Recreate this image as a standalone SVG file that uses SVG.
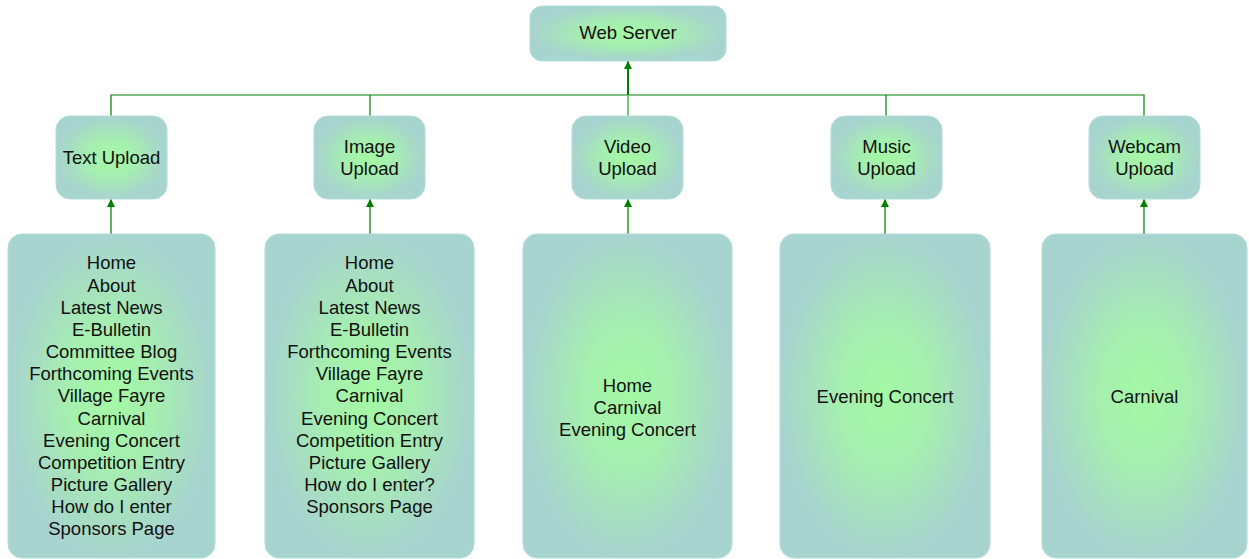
<svg xmlns="http://www.w3.org/2000/svg" width="1249" height="559" viewBox="0 0 1249 559">
<style>
.box{fill:url(#g);stroke:#b4dcd6;stroke-width:1}
text{font-family:"Liberation Sans",Arial,sans-serif;font-size:18.5px;fill:#111;text-anchor:middle}
.c{fill:none;stroke:#008000;stroke-width:1.2}
.up{fill:none;stroke:#1f8f1f;stroke-width:1.4}
</style>
<defs>
<radialGradient id="g" cx="50%" cy="50%" r="50%">
<stop offset="0" stop-color="#a4f9a4"/>
<stop offset="0.45" stop-color="#a5eeb0"/>
<stop offset="0.8" stop-color="#a7dcc4"/>
<stop offset="1" stop-color="#a8d4cf"/>
</radialGradient>
<marker id="a" viewBox="0 0 10 10" refX="10" refY="5" markerWidth="8" markerHeight="8" markerUnits="userSpaceOnUse" orient="auto">
<path d="M0,0 L10,5 L0,10 z" fill="#008000"/>
</marker>
</defs>
<g id="connectors">
<path class="c" d="M111,116 V95 H1144 V116"/>
<path class="c" d="M370,116 V95"/>
<path class="c" d="M886,116 V95"/>
<path d="M628,116 V95" stroke="#7dc07d" stroke-width="2" fill="none"/>
<path d="M628,95 V61" stroke="#008000" stroke-width="2" fill="none" marker-end="url(#a)"/>
<path class="up" d="M111,234 V199" marker-end="url(#a)"/>
<path class="up" d="M370,234 V199" marker-end="url(#a)"/>
<path class="up" d="M628,234 V199" marker-end="url(#a)"/>
<path class="up" d="M885,234 V199" marker-end="url(#a)"/>
<path class="up" d="M1144,234 V199" marker-end="url(#a)"/>
</g>
<g id="web-server">
<rect class="box" x="530" y="6" width="196" height="55" rx="12"/>
<text x="628" y="39">Web Server</text>
</g>
<g id="text-upload">
<rect class="box" x="56" y="116" width="111" height="83" rx="14"/>
<text x="111.5" y="164">Text Upload</text>
</g>
<g id="image-upload">
<rect class="box" x="314" y="116" width="111" height="83" rx="14"/>
<text x="369.5" y="152.5">Image</text>
<text x="369.5" y="174.5">Upload</text>
</g>
<g id="video-upload">
<rect class="box" x="572" y="116" width="111" height="83" rx="14"/>
<text x="627.5" y="152.5">Video</text>
<text x="627.5" y="174.5">Upload</text>
</g>
<g id="music-upload">
<rect class="box" x="831" y="116" width="111" height="83" rx="14"/>
<text x="886.5" y="152.5">Music</text>
<text x="886.5" y="174.5">Upload</text>
</g>
<g id="webcam-upload">
<rect class="box" x="1089" y="116" width="111" height="83" rx="14"/>
<text x="1144.5" y="152.5">Webcam</text>
<text x="1144.5" y="174.5">Upload</text>
</g>
<g id="text-pages">
<rect class="box" x="8" y="234" width="207" height="324" rx="14"/>
<text x="111.5" y="269.3">Home</text>
<text x="111.5" y="291.5">About</text>
<text x="111.5" y="313.6">Latest News</text>
<text x="111.5" y="335.8">E-Bulletin</text>
<text x="111.5" y="358">Committee Blog</text>
<text x="111.5" y="380.2">Forthcoming Events</text>
<text x="111.5" y="402.3">Village Fayre</text>
<text x="111.5" y="424.5">Carnival</text>
<text x="111.5" y="446.7">Evening Concert</text>
<text x="111.5" y="468.8">Competition Entry</text>
<text x="111.5" y="491">Picture Gallery</text>
<text x="111.5" y="513.2">How do I enter</text>
<text x="111.5" y="535.3">Sponsors Page</text>
</g>
<g id="image-pages">
<rect class="box" x="265" y="234" width="209" height="324" rx="14"/>
<text x="369.5" y="269.3">Home</text>
<text x="369.5" y="291.5">About</text>
<text x="369.5" y="313.6">Latest News</text>
<text x="369.5" y="335.8">E-Bulletin</text>
<text x="369.5" y="358">Forthcoming Events</text>
<text x="369.5" y="380.2">Village Fayre</text>
<text x="369.5" y="402.3">Carnival</text>
<text x="369.5" y="424.5">Evening Concert</text>
<text x="369.5" y="446.7">Competition Entry</text>
<text x="369.5" y="468.8">Picture Gallery</text>
<text x="369.5" y="491">How do I enter?</text>
<text x="369.5" y="513.2">Sponsors Page</text>
</g>
<g id="video-pages">
<rect class="box" x="523" y="234" width="209" height="324" rx="14"/>
<text x="627.5" y="391.7">Home</text>
<text x="627.5" y="413.9">Carnival</text>
<text x="627.5" y="436">Evening Concert</text>
</g>
<g id="music-pages">
<rect class="box" x="780" y="234" width="210" height="324" rx="14"/>
<text x="885" y="402.7">Evening Concert</text>
</g>
<g id="webcam-pages">
<rect class="box" x="1042" y="234" width="205" height="324" rx="14"/>
<text x="1144.5" y="402.7">Carnival</text>
</g>
</svg>
